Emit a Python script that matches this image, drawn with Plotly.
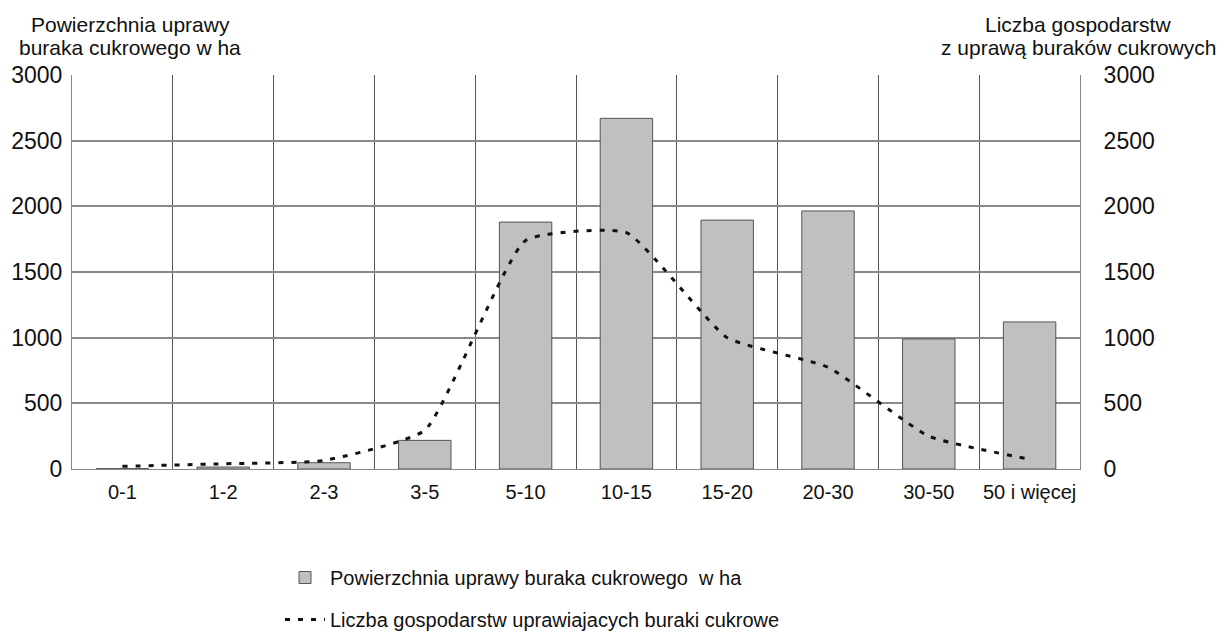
import plotly.graph_objects as go

categories = ["0-1", "1-2", "2-3", "3-5", "5-10", "10-15", "15-20", "20-30", "30-50", "50 i więcej"]
area_ha = [3, 15, 48, 218, 1880, 2670, 1895, 1965, 990, 1120]
farms = [20, 40, 65, 295, 1740, 1800, 1000, 775, 250, 75]

left_title = ["Powierzchnia uprawy", "buraka cukrowego w ha"]
right_title = ["Liczba gospodarstw", "z uprawą buraków cukrowych"]

FONT = "Liberation Sans, Arial, sans-serif"
W, H = 1217, 625
OFF = 8  # page body margin
L, T = 72 - OFF, 75 - OFF
PR, PB = 1080 - OFF, 469 - OFF
R, B = W - PR, H - PB
PW, PH = PR - L, PB - T


def px_x(x):
    return (x - OFF - L) / PW


def px_y(y):
    return (PB - (y - OFF)) / PH


fig = go.Figure()
fig.add_trace(go.Bar(
    x=categories, y=area_ha, name="Powierzchnia uprawy buraka cukrowego  w ha",
    marker=dict(color="#c0c0c0", line=dict(color="#555555", width=1)),
    width=0.52, legendgroup="a", yaxis="y",
))
fig.add_trace(go.Scatter(
    x=categories, y=farms, name="Liczba gospodarstw uprawiajacych buraki cukrowe",
    mode="lines", line=dict(color="#111111", width=3, dash="5px,8px", shape="spline", smoothing=0.45),
    legendgroup="b", yaxis="y2",
))

fig.update_layout(
    width=W, height=H,
    margin=dict(l=L, r=R, t=T, b=B, autoexpand=False),
    plot_bgcolor="white", paper_bgcolor="white",
    font=dict(family=FONT, color="#111111"),
    showlegend=True,
    legend=dict(
        x=px_x(280), y=px_y(558), xanchor="left", yanchor="top",
        font=dict(size=20, family=FONT, color="#111111"),
        tracegroupgap=13, traceorder="grouped", itemwidth=40,
        bgcolor="rgba(0,0,0,0)",
    ),
    xaxis=dict(
        type="category", tickson="boundaries", showgrid=True, gridcolor="#555555", gridwidth=1,
        showline=True, linecolor="#888888", linewidth=1, ticks="", automargin=False,
        tickangle=0, ticklabelstandoff=5,
        tickfont=dict(size=20, family=FONT, color="#111111"),
        range=[-0.5, 9.5],
    ),
    yaxis=dict(
        range=[0, 3000], dtick=500, showgrid=True, gridcolor="#8a8a8a", gridwidth=1.5,
        showline=True, linecolor="#888888", linewidth=1, zeroline=False, automargin=False,
        tickfont=dict(size=23, family=FONT, color="#111111"), ticks="",
        ticklabelstandoff=4,
    ),
    yaxis2=dict(
        range=[0, 3000], dtick=500, overlaying="y", side="right", showgrid=False,
        showline=True, linecolor="#888888", linewidth=1, zeroline=False, automargin=False,
        tickfont=dict(size=23, family=FONT, color="#111111"), ticks="",
        ticklabelstandoff=18,
    ),
)

ann = []
for i, t in enumerate(left_title):
    ann.append(dict(text=t, xref="paper", yref="paper", x=px_x(130), y=px_y(25 + 22 * i),
                    xanchor="center", yanchor="middle", showarrow=False,
                    font=dict(size=21, family=FONT, color="#111111")))
for i, t in enumerate(right_title):
    ann.append(dict(text=t, xref="paper", yref="paper", x=px_x(1078), y=px_y(25 + 22 * i),
                    xanchor="center", yanchor="middle", showarrow=False,
                    font=dict(size=21, family=FONT, color="#111111")))
fig.update_layout(annotations=ann)

fig.write_html("out.html")
